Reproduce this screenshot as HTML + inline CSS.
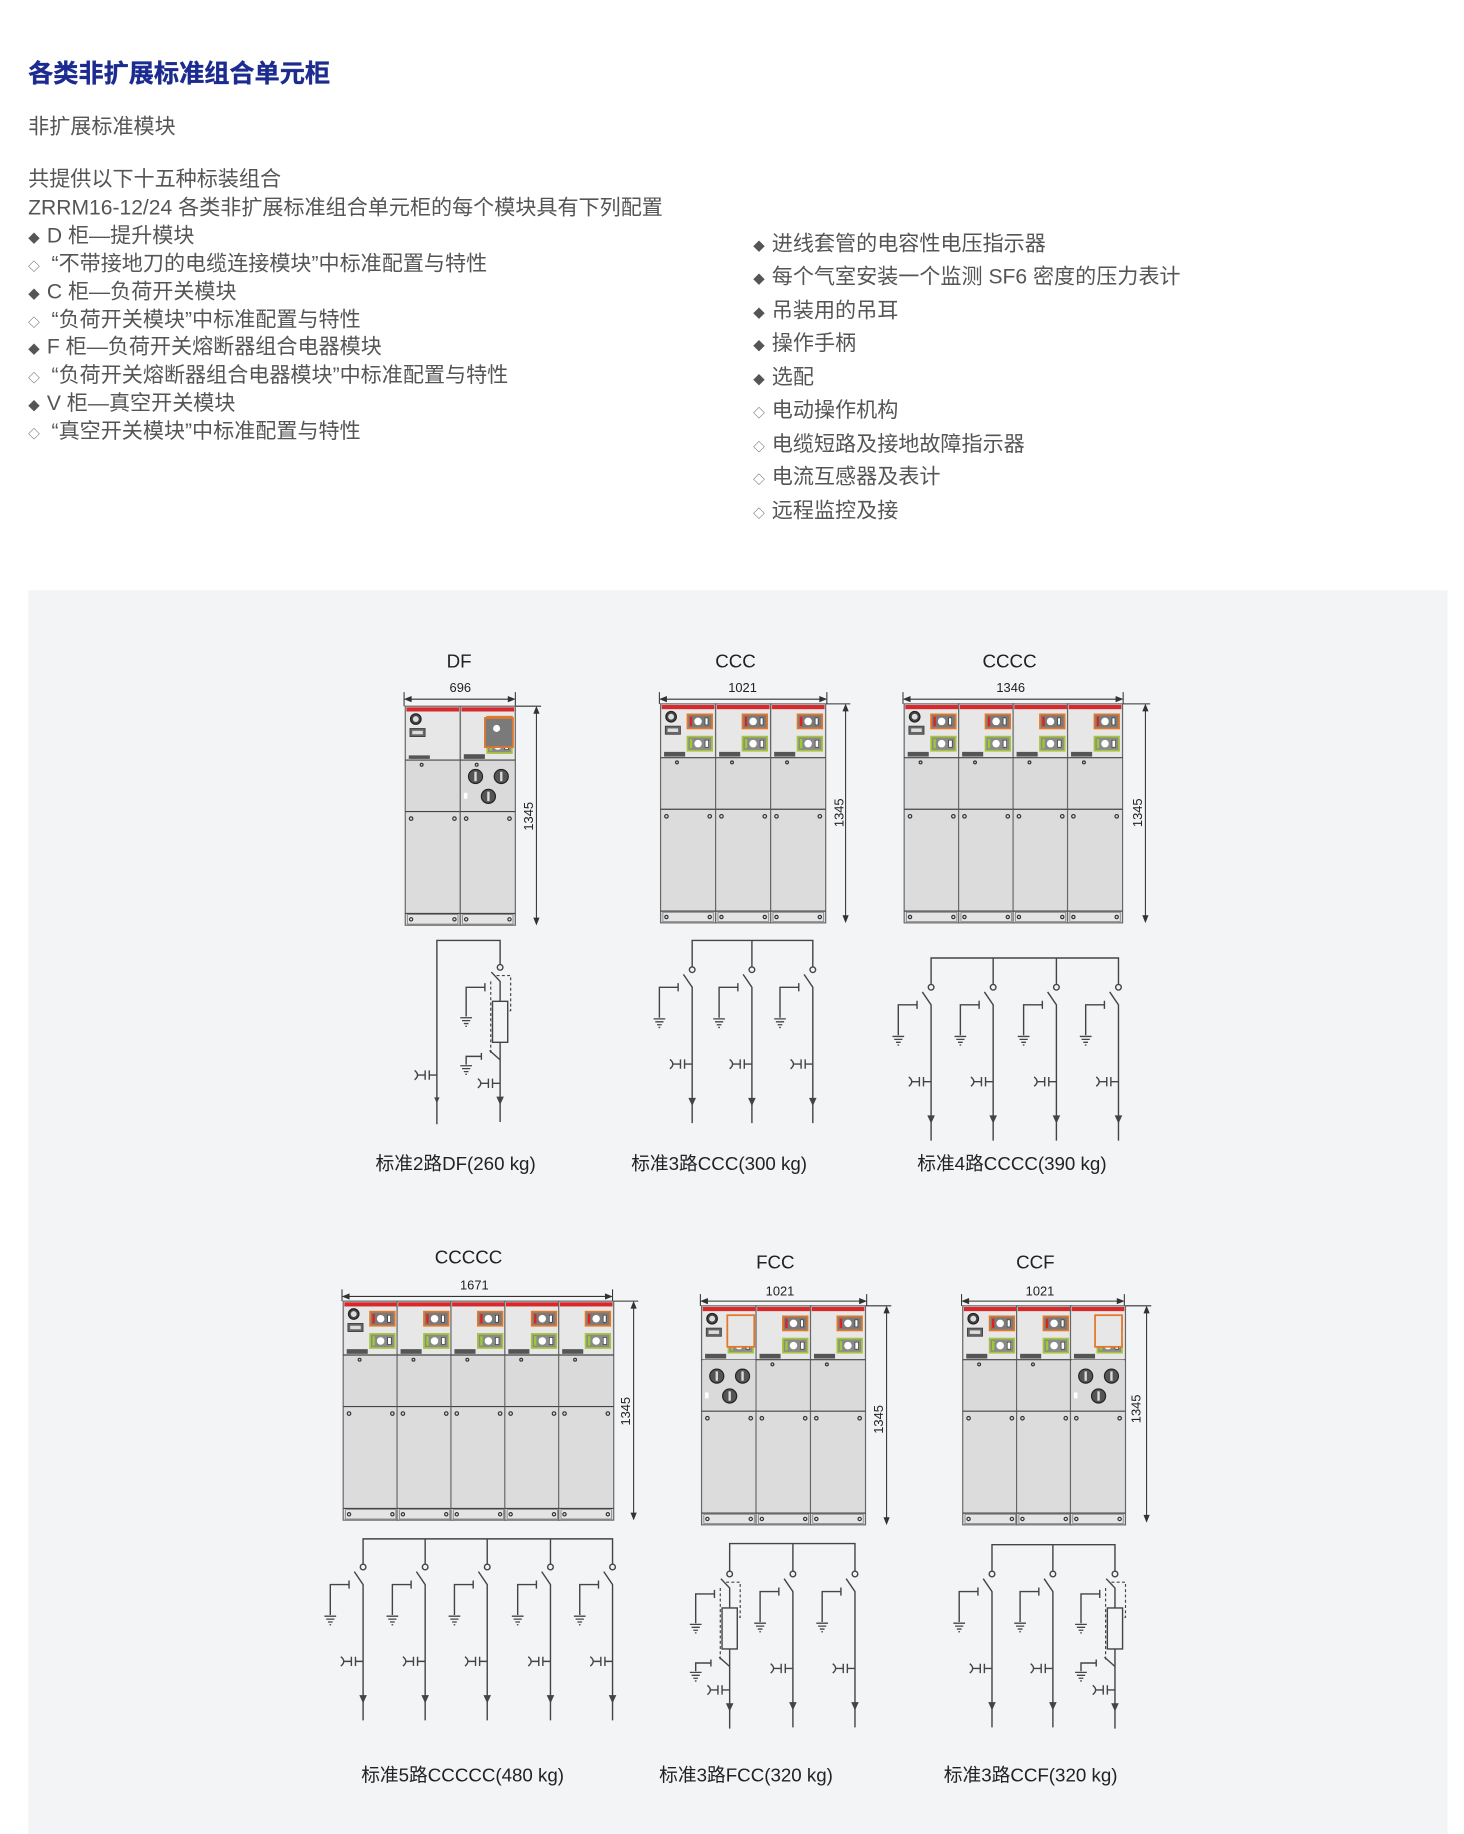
<!DOCTYPE html>
<html><head><meta charset="utf-8"><style>
html,body{margin:0;padding:0;background:#fff;width:1464px;height:1834px;overflow:hidden}
svg{display:block}
.t{font-family:"Liberation Sans","Noto Sans CJK SC",sans-serif;fill:#555;font-size:18px}
.b{font-size:10px}
.c{font-family:"Liberation Sans","Noto Sans CJK SC",sans-serif;fill:#222}
</style></head><body>
<svg width="1464" height="1834" viewBox="0 0 1250 1566" xmlns="http://www.w3.org/2000/svg">
<defs>
<g id="gnd" stroke="#444" stroke-width="1.1"><path d="M-5,0H5M-3.5,2.5H3.5M-2,5H2M-0.7,7.3H0.7"/></g>
<g id="cap" stroke="#444" stroke-width="1.2" fill="none"><path d="M-19,-4Q-14,0 -19,4M-16.5,0H-10M-10,-4V4M-6.5,-4V4M-6.5,0H0"/></g>
<g id="arr"><polygon points="-2.3,-3 2.3,-3 0,2" fill="#444"/></g>
<g id="sC" stroke="#444" stroke-width="1.2" fill="none">
 <circle cx="0" cy="0" r="2.4"/>
 <path d="M-7.5,4L0,15V131M-28,41V15H-12M-12,11.5V18.5"/>
 <use href="#gnd" x="-28" y="42"/>
 <use href="#cap" x="0" y="80.6"/>
 <use href="#arr" x="0" y="113"/>
</g>
<g id="sF" stroke="#444" stroke-width="1.2" fill="none">
 <circle cx="0" cy="0" r="2.4"/>
 <path d="M-7.5,4L0,12V132M-29,42V17H-13M-13,13.5V20.5"/>
 <use href="#gnd" x="-29" y="43"/>
 <rect x="-6.5" y="29" width="13" height="35" fill="#f3f4f6"/>
 <path d="M-3,7H9V37H6M-8,12V73" stroke-dasharray="2.5,2" stroke-width="1"/>
 <path d="M-9,71L0,79M-16,73V79M-16,76H-29V83"/>
 <use href="#gnd" x="-29" y="84"/>
 <use href="#cap" x="0" y="99"/>
 <use href="#arr" x="0" y="114"/>
</g>
<g id="uC">
 <rect x="0" y="0" width="47" height="187" fill="#dcdcdc" stroke="#666" stroke-width="1"/>
 <rect x="1" y="1" width="45" height="3.5" fill="#d8282c"/>
 <rect x="1" y="5" width="45" height="41" fill="#e7e7e7"/>
 <rect x="1" y="46" width="45" height="44" fill="#dadada"/>
 <path d="M0,46H47M0,90H47M0,177H47" stroke="#444" stroke-width="1"/>
 <rect x="2" y="178" width="43" height="8" fill="#e4e4e4" stroke="#777" stroke-width="0.6"/>
 <circle cx="5" cy="182" r="1.4" fill="none" stroke="#333"/><circle cx="42" cy="182" r="1.4" fill="none" stroke="#333"/>
 <circle cx="5" cy="96" r="1.5" fill="none" stroke="#333"/><circle cx="42" cy="96" r="1.5" fill="none" stroke="#333"/>
 <rect x="23" y="9" width="21" height="12" fill="#7a7a7a" stroke="#e3782a" stroke-width="1.5"/>
 <rect x="25" y="11" width="2" height="8" fill="#d22"/><circle cx="32" cy="15" r="3.2" fill="#fff"/><rect x="38" y="12" width="2.5" height="6" fill="#fff" stroke="#222" stroke-width="0.5"/>
 <rect x="23" y="28" width="21" height="12" fill="#8a8a8a" stroke="#a6c43c" stroke-width="1.5"/>
 <rect x="25" y="30" width="2" height="8" fill="#9c3"/><circle cx="32" cy="34" r="3.2" fill="#fff"/><rect x="38" y="31" width="3" height="6" fill="#fff" stroke="#222" stroke-width="0.5"/>
 <rect x="3" y="41" width="18" height="4" fill="#555"/>
 <circle cx="14" cy="50" r="1.2" fill="none" stroke="#333"/>
</g>
<g id="gauge">
 <circle cx="9" cy="11" r="4.5" fill="#444" stroke="#222"/><circle cx="9" cy="11" r="2.5" fill="#ddd"/>
 <rect x="4" y="19" width="13" height="7" fill="#666" stroke="#333" stroke-width="0.6"/><rect x="6" y="21" width="9" height="3" fill="#ddd"/>
</g>
<g id="knobs">
 <circle cx="13" cy="60" r="6" fill="#555" stroke="#222"/><rect x="12" y="56" width="2" height="8" fill="#ddd"/>
 <circle cx="35" cy="60" r="6" fill="#555" stroke="#222"/><rect x="34" y="56" width="2" height="8" fill="#ddd"/>
 <circle cx="24" cy="77" r="6" fill="#555" stroke="#222"/><rect x="23" y="73" width="2" height="8" fill="#ddd"/>
 <rect x="3" y="74" width="3" height="5" fill="#fff"/>
</g>
</defs>

<!-- top text -->
<text x="24" y="70" style="font-family:'Liberation Sans','Noto Sans CJK SC',sans-serif;font-size:21.5px;font-weight:bold;fill:#1c2b8f;stroke:#1c2b8f;stroke-width:0.3">各类非扩展标准组合单元柜</text>
<text class="t" x="24" y="114">非扩展标准模块</text>
<g class="t">
<text x="24" y="159">共提供以下十五种标装组合</text>
<text x="24" y="183">ZRRM16-12/24 各类非扩展标准组合单元柜的每个模块具有下列配置</text>
<text x="24" y="207"><tspan class="b">◆</tspan><tspan x="40">D 柜—提升模块</tspan></text>
<text x="24" y="231"><tspan class="b">◇</tspan><tspan x="44">“不带接地刀的电缆连接模块”中标准配置与特性</tspan></text>
<text x="24" y="255"><tspan class="b">◆</tspan><tspan x="40">C 柜—负荷开关模块</tspan></text>
<text x="24" y="279"><tspan class="b">◇</tspan><tspan x="44">“负荷开关模块”中标准配置与特性</tspan></text>
<text x="24" y="302"><tspan class="b">◆</tspan><tspan x="40">F 柜—负荷开关熔断器组合电器模块</tspan></text>
<text x="24" y="326"><tspan class="b">◇</tspan><tspan x="44">“负荷开关熔断器组合电器模块”中标准配置与特性</tspan></text>
<text x="24" y="350"><tspan class="b">◆</tspan><tspan x="40">V 柜—真空开关模块</tspan></text>
<text x="24" y="374"><tspan class="b">◇</tspan><tspan x="44">“真空开关模块”中标准配置与特性</tspan></text>
<text x="643" y="214"><tspan class="b">◆</tspan><tspan x="659">进线套管的电容性电压指示器</tspan></text>
<text x="643" y="242"><tspan class="b">◆</tspan><tspan x="659">每个气室安装一个监测 SF6 密度的压力表计</tspan></text>
<text x="643" y="271"><tspan class="b">◆</tspan><tspan x="659">吊装用的吊耳</tspan></text>
<text x="643" y="299"><tspan class="b">◆</tspan><tspan x="659">操作手柄</tspan></text>
<text x="643" y="328"><tspan class="b">◆</tspan><tspan x="659">选配</tspan></text>
<text x="643" y="356"><tspan class="b">◇</tspan><tspan x="659">电动操作机构</tspan></text>
<text x="643" y="385"><tspan class="b">◇</tspan><tspan x="659">电缆短路及接地故障指示器</tspan></text>
<text x="643" y="413"><tspan class="b">◇</tspan><tspan x="659">电流互感器及表计</tspan></text>
<text x="643" y="442"><tspan class="b">◇</tspan><tspan x="659">远程监控及接</tspan></text>
</g>

<rect x="24" y="504" width="1212" height="1062" fill="#f3f4f6"/>

<!-- labels -->
<g class="c" font-size="16" text-anchor="middle">
<text x="392" y="570">DF</text><text x="628" y="570">CCC</text><text x="862" y="570">CCCC</text>
<text x="400" y="1079">CCCCC</text><text x="662" y="1083">FCC</text><text x="884" y="1083">CCF</text>
<text x="389" y="999">标准2路DF(260 kg)</text><text x="614" y="999">标准3路CCC(300 kg)</text><text x="864" y="999">标准4路CCCC(390 kg)</text>
<text x="395" y="1521">标准5路CCCCC(480 kg)</text><text x="637" y="1521">标准3路FCC(320 kg)</text><text x="880" y="1521">标准3路CCF(320 kg)</text>
</g>
<g class="c" font-size="11" text-anchor="middle">
<text x="393" y="591">696</text><text x="634" y="591">1021</text><text x="863" y="591">1346</text>
<text x="405" y="1101">1671</text><text x="666" y="1106">1021</text><text x="888" y="1106">1021</text>
<text transform="translate(455,697) rotate(-90)">1345</text>
<text transform="translate(720,694) rotate(-90)">1345</text>
<text transform="translate(975,694) rotate(-90)">1345</text>
<text transform="translate(538,1205) rotate(-90)">1345</text>
<text transform="translate(754,1212) rotate(-90)">1345</text>
<text transform="translate(974,1203) rotate(-90)">1345</text>
</g>

<!-- dimension lines -->
<g stroke="#333" stroke-width="0.9" fill="#333">
<path d="M345,591V603M440,591V603M347,597H438"/><polygon points="346,597 351,595 351,599"/><polygon points="439,597 434,595 434,599"/>
<path d="M440,603H462M458,605V788"/><polygon points="458,604 456,609 460,609"/><polygon points="458,789 456,784 460,784"/>
<path d="M563,591V601M706,591V601M565,597H704"/><polygon points="564,597 569,595 569,599"/><polygon points="705,597 700,595 700,599"/>
<path d="M705,601H726M722,603V786"/><polygon points="722,602 720,607 724,607"/><polygon points="722,787 720,782 724,782"/>
<path d="M771,591V601M959,591V601M773,597H957"/><polygon points="772,597 777,595 777,599"/><polygon points="958,597 953,595 953,599"/>
<path d="M958,601H982M978,603V786"/><polygon points="978,602 976,607 980,607"/><polygon points="978,787 976,782 980,782"/>
<path d="M292,1101V1111M523,1101V1111M294,1107H521"/><polygon points="293,1107 298,1105 298,1109"/><polygon points="522,1107 517,1105 517,1109"/>
<path d="M523,1111H545M541,1113V1296"/><polygon points="541,1112 539,1117 543,1117"/><polygon points="541,1297 539,1292 543,1292"/>
<path d="M598,1105V1115M740,1105V1115M600,1111H738"/><polygon points="599,1111 604,1109 604,1113"/><polygon points="739,1111 734,1109 734,1113"/>
<path d="M739,1115H761M757,1117V1300"/><polygon points="757,1116 755,1121 759,1121"/><polygon points="757,1301 755,1296 759,1296"/>
<path d="M821,1105V1115M960,1105V1115M823,1111H958"/><polygon points="822,1111 827,1109 827,1113"/><polygon points="959,1111 954,1109 954,1113"/>
<path d="M960,1115H983M979,1117V1298"/><polygon points="979,1116 977,1121 981,1121"/><polygon points="979,1299 977,1294 981,1294"/>
</g>

<!-- cabinets -->
<use href="#uC" x="346" y="603"/><use href="#uC" x="393" y="603"/>
<rect x="347" y="608" width="45" height="37" fill="#e7e7e7"/><use href="#gauge" x="346" y="603"/>
<use href="#knobs" x="393" y="603"/>
<rect x="414" y="613" width="24" height="25" fill="#7a7a7a" stroke="#e3782a" stroke-width="1.5"/><circle cx="424" cy="622" r="3" fill="#fff"/>

<use href="#uC" x="564" y="601"/><use href="#uC" x="611" y="601"/><use href="#uC" x="658" y="601"/><use href="#gauge" x="564" y="601"/>
<use href="#uC" x="772" y="601"/><use href="#uC" x="818.5" y="601"/><use href="#uC" x="865" y="601"/><use href="#uC" x="911.5" y="601"/><use href="#gauge" x="772" y="601"/>
<use href="#uC" x="293" y="1111"/><use href="#uC" x="339" y="1111"/><use href="#uC" x="385" y="1111"/><use href="#uC" x="431" y="1111"/><use href="#uC" x="477" y="1111"/><use href="#gauge" x="293" y="1111"/>

<use href="#uC" x="599" y="1115"/><use href="#uC" x="645.5" y="1115"/><use href="#uC" x="692" y="1115"/>
<rect x="600" y="1161" width="45" height="43" fill="#dadada"/><use href="#knobs" x="599" y="1115"/><use href="#gauge" x="599" y="1115"/>
<rect x="621" y="1123" width="23" height="27" fill="#e7e7e7" stroke="#e3782a" stroke-width="1.5"/>

<use href="#uC" x="822" y="1115"/><use href="#uC" x="868" y="1115"/><use href="#uC" x="914" y="1115"/><use href="#gauge" x="822" y="1115"/>
<rect x="915" y="1161" width="45" height="43" fill="#dadada"/><use href="#knobs" x="914" y="1115"/>
<rect x="935" y="1123" width="23" height="27" fill="#e7e7e7" stroke="#e3782a" stroke-width="1.5"/>

<!-- schematics -->
<g stroke="#444" stroke-width="1.2" fill="none">
<path d="M373,960V803H427V823.6"/>
<path d="M591,825.6V803H694V825.6M642,803V825.6"/>
<path d="M795,840.6V818H955V840.6M848,818V840.6M902,818V840.6"/>
<path d="M310,1335.6V1314H523V1335.6M363,1314V1335.6M416,1314V1335.6M470,1314V1335.6"/>
<path d="M623,1341.6V1318H730V1341.6M677,1318V1341.6"/>
<path d="M847,1341.6V1319H952V1341.6M899,1319V1341.6"/>
</g>
<use href="#cap" x="373" y="918"/><use href="#arr" x="373" y="940"/>
<use href="#sF" x="427" y="826"/>
<use href="#sC" x="591" y="828"/><use href="#sC" x="642" y="828"/><use href="#sC" x="694" y="828"/>
<use href="#sC" x="795" y="843"/><use href="#sC" x="848" y="843"/><use href="#sC" x="902" y="843"/><use href="#sC" x="955" y="843"/>
<use href="#sC" x="310" y="1338"/><use href="#sC" x="363" y="1338"/><use href="#sC" x="416" y="1338"/><use href="#sC" x="470" y="1338"/><use href="#sC" x="523" y="1338"/>
<use href="#sF" x="623" y="1344"/><use href="#sC" x="677" y="1344"/><use href="#sC" x="730" y="1344"/>
<use href="#sC" x="847" y="1344"/><use href="#sC" x="899" y="1344"/><use href="#sF" x="952" y="1344"/>
</svg>
</body></html>
